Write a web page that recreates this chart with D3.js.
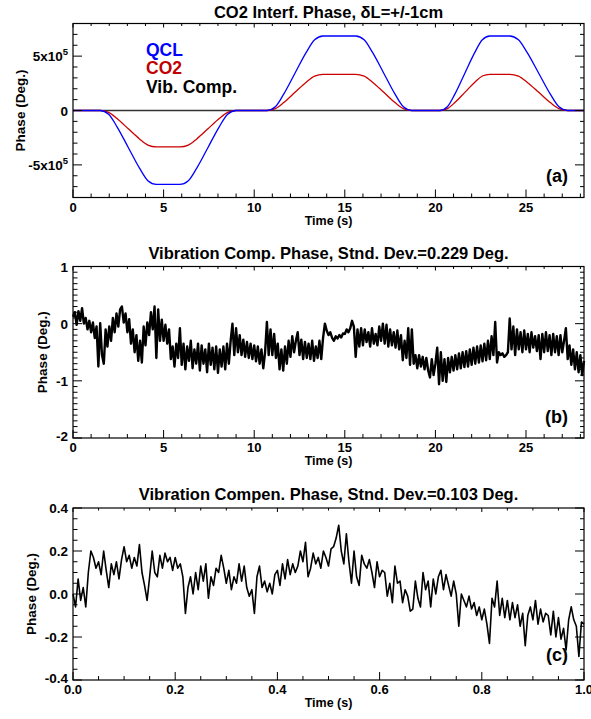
<!DOCTYPE html>
<html><head><meta charset="utf-8">
<script src="https://cdn.jsdelivr.net/npm/d3@7"></script>
<style>body{margin:0;background:#fff}svg{display:block}</style>
</head><body><svg id="chart" width="591" height="719"></svg>
<script>
// ---------- DATA ----------
// Panel (a): knot times (s) shared by QCL and CO2 phase curves
const aTimes = [0, 1.5, 1.965, 2.43, 3.05, 3.67, 4.135, 4.6,
  5.9, 6.365, 6.83, 7.45, 8.07, 8.535, 9.0,
  10.7, 11.165, 11.63, 12.25, 12.87, 13.335, 13.8,
  15.6, 16.065, 16.53, 17.15, 17.77, 18.235, 18.7,
  20.25, 20.66, 21.075, 21.625, 22.175, 22.59, 23.0,
  24.1, 24.58, 25.06, 25.7, 26.34, 26.82, 27.3, 28.2];
const qclPhase = [0, 0, -0.34e5, -1.5e5, -3.4e5, -5.3e5, -6.46e5, -6.8e5,
  -6.8e5, -6.46e5, -5.3e5, -3.4e5, -1.5e5, -0.34e5, 0,
  0, 0.34e5, 1.51e5, 3.43e5, 5.34e5, 6.51e5, 6.85e5,
  6.85e5, 6.51e5, 5.34e5, 3.43e5, 1.51e5, 0.34e5, 0,
  0, 0.34e5, 1.51e5, 3.43e5, 5.34e5, 6.51e5, 6.85e5,
  6.85e5, 6.51e5, 5.34e5, 3.43e5, 1.51e5, 0.34e5, 0, 0];
const co2Phase = [0, 0, -0.17e5, -0.74e5, -1.68e5, -2.61e5, -3.18e5, -3.35e5,
  -3.35e5, -3.18e5, -2.61e5, -1.68e5, -0.74e5, -0.17e5, 0,
  0, 0.17e5, 0.73e5, 1.67e5, 2.6e5, 3.17e5, 3.33e5,
  3.33e5, 3.17e5, 2.6e5, 1.67e5, 0.73e5, 0.17e5, 0,
  0, 0.17e5, 0.73e5, 1.67e5, 2.6e5, 3.17e5, 3.33e5,
  3.33e5, 3.17e5, 2.6e5, 1.67e5, 0.73e5, 0.17e5, 0, 0];

// Panel (b): vibration compensation phase (deg), sampled every 0.1 s
const vibStep = 0.1;
const vibPhase = [
  0.12, 0.20, -0.02, 0.22, 0.05, 0.27, 0.00, 0.10, -0.10, 0.05,
  -0.15, 0.02, -0.25, -0.05, -0.75, 0.01, -0.55, -0.70, -0.10, -0.40,
  -0.05, -0.30, 0.10, -0.15, 0.18, -0.05, 0.25, 0.30, 0.02, 0.18,
  -0.15, 0.08, -0.35, -0.10, -0.50, -0.20, -0.65, -0.30, -0.68, -0.05,
  -0.38, 0.02, -0.20, 0.20, -0.10, 0.30, -0.60, 0.25, -0.30, 0.07,
  -0.30, -0.02, -0.35, -0.10, -0.62, -0.40, -0.75, -0.35, -0.60, -0.08,
  -0.72, -0.35, -0.80, -0.40, -0.65, -0.30, -0.78, -0.45, -0.70, -0.35,
  -0.82, -0.38, -0.70, -0.45, -0.85, -0.35, -0.72, -0.42, -0.80, -0.40,
  -0.86, -0.45, -0.75, -0.40, -0.80, -0.35, -0.70, -0.30, 0.00, -0.55,
  -0.08, -0.50, -0.20, -0.55, -0.28, -0.58, -0.32, -0.60, -0.35, -0.62,
  -0.38, -0.66, -0.40, -0.70, -0.45, -0.78, -0.50, 0.03, -0.55, -0.10,
  -0.55, -0.18, -0.60, -0.35, -0.80, -0.45, -0.82, -0.40, -0.70, -0.30,
  -0.58, -0.22, -0.50, -0.30, -0.15, -0.55, -0.28, -0.62, -0.32, -0.60,
  -0.35, -0.62, -0.30, -0.65, -0.40, -0.60, -0.30, -0.62, -0.25, 0.00,
  -0.12, -0.20, -0.15, -0.25, -0.30, -0.22, -0.26, -0.20, -0.24, -0.17,
  -0.18, -0.10, -0.15, -0.08, 0.05, -0.05, -0.58, -0.10, -0.40, -0.08,
  -0.38, -0.10, -0.32, -0.15, -0.40, -0.08, -0.35, -0.18, -0.38, -0.05,
  -0.30, 0.00, -0.35, -0.02, -0.40, -0.10, -0.38, -0.15, -0.42, -0.12,
  -0.45, -0.20, -0.64, -0.30, -0.60, -0.08, -0.72, -0.10, -0.70, -0.55,
  -0.78, -0.55, -0.75, -0.58, -0.80, -0.60, -0.82, -0.94, -0.62, -0.90,
  -0.70, -0.42, -1.06, -0.50, -1.00, -0.62, -1.02, -0.60, -0.85, -0.58,
  -0.82, -0.55, -0.80, -0.52, -0.78, -0.50, -0.76, -0.48, -0.75, -0.45,
  -0.72, -0.42, -0.70, -0.40, -0.68, -0.38, -0.66, -0.35, -0.64, -0.30,
  -0.62, -0.22, -0.55, 0.03, -0.68, -0.50, -0.55, -0.52, -0.58, -0.55,
  -0.50, 0.09, -0.45, -0.05, -0.55, -0.10, -0.45, -0.15, -0.50, -0.12,
  -0.45, -0.18, -0.50, -0.15, -0.42, -0.22, -0.48, -0.20, -0.62, -0.18,
  -0.50, -0.15, -0.48, -0.20, -0.55, -0.18, -0.50, -0.22, -0.55, -0.20,
  -0.50, -0.30, -0.08, -0.62, -0.38, -0.72, -0.45, -0.80, -0.50, -0.85, -0.55, -0.90, -0.65];

// Panel (c): vibration compensated phase (deg), sampled every 0.005 s
const compStep = 0.005;
const compPhase = [
  0.00, -0.06, 0.07, -0.03, 0.03, -0.06, 0.10, 0.20, 0.17, 0.12,
  0.15, 0.09, 0.20, 0.11, 0.03, 0.14, 0.09, 0.15, 0.07, 0.16,
  0.22, 0.15, 0.18, 0.12, 0.17, 0.13, 0.23, 0.10, 0.04, -0.03,
  0.08, 0.20, 0.10, 0.08, 0.18, 0.12, 0.19, 0.15, 0.17, 0.11,
  0.17, 0.12, 0.14, 0.08, -0.09, 0.03, 0.08, 0.00, 0.10, 0.02,
  0.13, 0.06, 0.14, -0.02, 0.08, 0.04, 0.12, 0.10, 0.18, 0.12,
  0.05, 0.11, 0.02, 0.08, 0.05, 0.14, 0.06, 0.13, 0.03, -0.01,
  0.02, -0.09, 0.08, 0.13, 0.03, 0.06, 0.01, 0.05, 0.00, 0.09,
  0.11, 0.04, 0.14, 0.07, 0.16, 0.09, 0.14, 0.10, 0.13, 0.20,
  0.15, 0.24, 0.08, 0.12, 0.19, 0.14, 0.17, 0.12, 0.20, 0.17,
  0.13, 0.21, 0.22, 0.26, 0.32, 0.20, 0.14, 0.28, 0.15, 0.05,
  0.20, 0.08, 0.04, 0.18, 0.14, 0.12, 0.16, 0.10, 0.03, 0.15,
  0.08, 0.11, 0.10, -0.01, 0.05, -0.04, 0.13, 0.05, 0.06, -0.04,
  0.02, -0.01, -0.08, -0.07, 0.06, -0.02, -0.06, 0.10, 0.02, 0.06,
  -0.06, 0.07, 0.00, 0.08, 0.11, 0.02, 0.09, 0.04, -0.01, 0.06,
  0.00, -0.15, 0.00, -0.03, -0.06, -0.01, -0.07, -0.04, -0.10, -0.06,
  -0.12, -0.07, -0.14, -0.23, -0.02, -0.06, 0.06, -0.10, -0.02, -0.11,
  -0.03, -0.12, -0.04, -0.11, -0.05, -0.15, -0.09, -0.24, -0.10, -0.06,
  -0.12, -0.03, -0.14, -0.07, -0.13, -0.09, -0.10, -0.19, -0.08, -0.20,
  -0.11, -0.21, -0.16, -0.26, -0.12, -0.06, -0.12, -0.15, -0.29, -0.13,
  -0.14];

// Ticks and labels
const aXTicks = [0, 5, 10, 15, 20, 25];
const aYTicks = [-5e5, 0, 5e5];
const aYTickLabels = [["-5x10", "5"], ["0", ""], ["5x10", "5"]];
const bXTicks = [0, 5, 10, 15, 20, 25];
const bYTicks = [-2, -1, 0, 1];
const bYTickLabels = ["-2", "-1", "0", "1"];
const cXTicks = [0, 0.2, 0.4, 0.6, 0.8, 1.0];
const cXTickLabels = ["0.0", "0.2", "0.4", "0.6", "0.8", "1.0"];
const cYTicks = [-0.4, -0.2, 0, 0.2, 0.4];
const cYTickLabels = ["-0.4", "-0.2", "0.0", "0.2", "0.4"];
const legendNames = ["QCL", "CO2", "Vib. Comp."];
const legendColors = ["#0000ff", "#c00000", "#000000"];

// ---------- DRAWING ----------
const svg = d3.select("#chart");
const FONT = '"Liberation Sans", Arial, Helvetica, sans-serif';
const LEFT = 73, RIGHT = 584, CX = (LEFT + RIGHT) / 2;

function panel(o) {
  const x = d3.scaleLinear().domain(o.xDomain).range([LEFT, RIGHT]);
  const y = d3.scaleLinear().domain(o.yDomain).range([o.bottom, o.top]);
  const g = svg.append("g");
  o.series.forEach(s => {
    g.append("path").datum(s.points)
      .attr("fill", "none").attr("stroke", s.color).attr("stroke-width", s.width)
      .attr("stroke-linejoin", "round")
      .attr("d", d3.line().x(d => x(d[0])).y(d => y(d[1])).curve(s.curve || d3.curveLinear));
  });
  const eps = 1e-9;
  const xMinor = d3.range(o.xDomain[0], o.xDomain[1] + eps, o.xMinor);
  const yMinor = d3.range(o.yDomain[0], o.yDomain[1] + eps, o.yMinor);
  const tk = g.append("g").attr("stroke", "#000").attr("stroke-width", 1);
  const isMajor = (v, arr) => arr.some(a => Math.abs(a - v) < 1e-6);
  xMinor.forEach(v => {
    const maj = isMajor(v, o.xTicks);
    const px = x(v);
    tk.append("line").attr("x1", px).attr("x2", px).attr("y1", o.bottom).attr("y2", o.bottom - (maj ? 8 : 4));
    tk.append("line").attr("x1", px).attr("x2", px).attr("y1", o.top).attr("y2", o.top + (maj ? 4 : 2.5));
  });
  yMinor.forEach(v => {
    const maj = isMajor(v, o.yTicks);
    const py = y(v);
    tk.append("line").attr("y1", py).attr("y2", py).attr("x1", LEFT).attr("x2", LEFT + (maj ? 9 : 4.5));
    tk.append("line").attr("y1", py).attr("y2", py).attr("x1", RIGHT).attr("x2", RIGHT - (maj ? 9 : 4));
  });
  g.append("rect").attr("x", LEFT).attr("y", o.top).attr("width", RIGHT - LEFT).attr("height", o.bottom - o.top)
    .attr("fill", "none").attr("stroke", "#000").attr("stroke-width", 1.2);
  const txt = g.append("g").attr("font-family", FONT).attr("font-weight", "bold").attr("fill", "#000");
  o.xTicks.forEach((v, i) => {
    txt.append("text").attr("x", x(v)).attr("y", o.bottom + 14).attr("text-anchor", "middle")
      .attr("font-size", 13).text(o.xLabels[i]);
  });
  const yDom = o.yDomain;
  o.yTicks.forEach((v, i) => {
    const lab = o.yLabels[i];
    const shift = Math.abs(v - yDom[0]) < 1e-9 ? -2 : 0;
    const t = txt.append("text").attr("x", 68).attr("y", y(v) + 5 + shift).attr("text-anchor", "end").attr("font-size", 13.5);
    if (Array.isArray(lab)) {
      t.append("tspan").text(lab[0]);
      if (lab[1]) t.append("tspan").attr("dy", -6).attr("font-size", 9.5).text(lab[1]);
    } else t.text(lab);
  });
  txt.append("text").attr("x", CX).attr("y", o.bottom + 27).attr("text-anchor", "middle")
    .attr("font-size", 12.5).text("Time (s)");
  txt.append("text").attr("transform", `translate(${o.ylabX},${(o.top + o.bottom) / 2}) rotate(-90)`)
    .attr("text-anchor", "middle").attr("font-size", 13.5).text("Phase (Deg.)");
  txt.append("text").attr("x", CX).attr("y", o.titleY).attr("text-anchor", "middle")
    .attr("font-size", 16.5).text(o.title);
  txt.append("text").attr("x", 568).attr("y", o.tagY).attr("text-anchor", "end")
    .attr("font-size", 18).text(o.tag);
  return { x, y, g };
}

const qclPts = aTimes.map((t, i) => [t, qclPhase[i]]);
const co2Pts = aTimes.map((t, i) => [t, co2Phase[i]]);
const vibPts = vibPhase.map((v, i) => [i * vibStep, v]);
const compPts = compPhase.map((v, i) => [i * compStep, v]);

panel({
  top: 23.5, bottom: 197.5, xDomain: [0, 28.2], yDomain: [-8e5, 8e5],
  xTicks: aXTicks, xLabels: aXTicks.map(String), xMinor: 1,
  yTicks: aYTicks, yLabels: aYTickLabels, yMinor: 1e5,
  ylabX: 25, titleY: 18, tag: "(a)", tagY: 182,
  title: "CO2 Interf. Phase, \u03b4L=+/-1cm",
  series: [
    { points: vibPts, color: "#333", width: 1.6 },
    { points: co2Pts, color: "#cc0000", width: 1.3, curve: d3.curveMonotoneX },
    { points: qclPts, color: "#0000ff", width: 1.3, curve: d3.curveMonotoneX }
  ]
});
legendNames.forEach((n, i) => {
  svg.append("text").attr("x", 146).attr("y", 55.5 + i * 18.5)
    .attr("font-family", FONT).attr("font-weight", "bold").attr("font-size", 17.5)
    .attr("fill", legendColors[i]).text(n);
});

panel({
  top: 266.5, bottom: 438, xDomain: [0, 28.2], yDomain: [-2, 1],
  xTicks: bXTicks, xLabels: bXTicks.map(String), xMinor: 1,
  yTicks: bYTicks, yLabels: bYTickLabels, yMinor: 0.1,
  ylabX: 47, titleY: 259, tag: "(b)", tagY: 423,
  title: "Vibration Comp. Phase, Stnd. Dev.=0.229 Deg.",
  series: [{ points: vibPts, color: "#000", width: 2.4 }]
});

panel({
  top: 508, bottom: 680, xDomain: [0, 1], yDomain: [-0.4, 0.4],
  xTicks: cXTicks, xLabels: cXTickLabels, xMinor: 0.05,
  yTicks: cYTicks, yLabels: cYTickLabels, yMinor: 0.05,
  ylabX: 36, titleY: 500, tag: "(c)", tagY: 661,
  title: "Vibration Compen. Phase, Stnd. Dev.=0.103 Deg.",
  series: [{ points: compPts, color: "#000", width: 1.6 }]
});
</script></body></html>
